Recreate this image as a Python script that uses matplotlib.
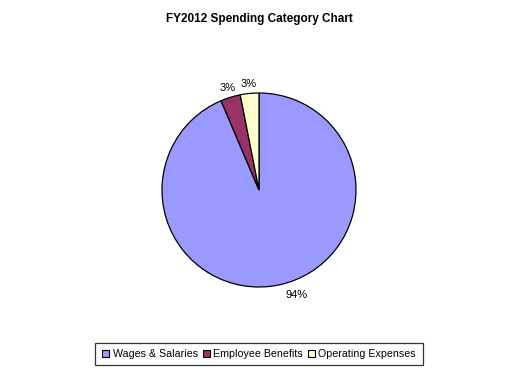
import matplotlib
matplotlib.use("Agg")
import matplotlib.pyplot as plt
from matplotlib.patches import Patch

categories = ["Wages & Salaries", "Employee Benefits", "Operating Expenses"]
values = [93.6, 3.3, 3.1]
colors = ["#9999FF", "#993366", "#FFFFCC"]
title = "FY2012 Spending Category Chart"

plt.rcParams['font.family'] = ['Liberation Sans', 'DejaVu Sans']

W, H = 520, 373
fig = plt.figure(figsize=(W / 100, H / 100), dpi=100)
fig.patch.set_facecolor("white")

cx, cy, r = 259, 190, 97
ax = fig.add_axes([(cx - r) / W, (H - cy - r) / H, 2 * r / W, 2 * r / H])
wedges, texts, autotexts = ax.pie(
    values, colors=colors, startangle=90, counterclock=False,
    autopct=lambda p: f"{p:.0f}%", pctdistance=1.1,
    wedgeprops=dict(edgecolor="black", linewidth=0.9),
    textprops=dict(fontsize=8, color="black"))
ax.set_xlim(-1, 1)
ax.set_ylim(-1, 1)
ax.set_aspect("equal")
ax.axis("off")
# nudge the large label to match the reference placement
x, y = autotexts[0].get_position()
autotexts[0].set_position((x + 0.17, y + 0.0))

fig.text(cx / W, 1 - 19 / H, title, ha="center", va="center",
         fontsize=8.5, fontweight="bold")

handles = [Patch(facecolor=c, edgecolor="black", linewidth=0.8) for c in colors]
leg = fig.legend(handles, categories, loc="center", bbox_to_anchor=(cx / W, 1 - 354 / H),
                 ncol=3, fontsize=7.7, frameon=True, fancybox=False,
                 handlelength=0.7, handleheight=0.7, handletextpad=0.3,
                 columnspacing=0.45, borderpad=0.6)
leg.get_frame().set_edgecolor("black")
leg.get_frame().set_linewidth(0.9)

fig.savefig("out.png", dpi=100, facecolor="white")
